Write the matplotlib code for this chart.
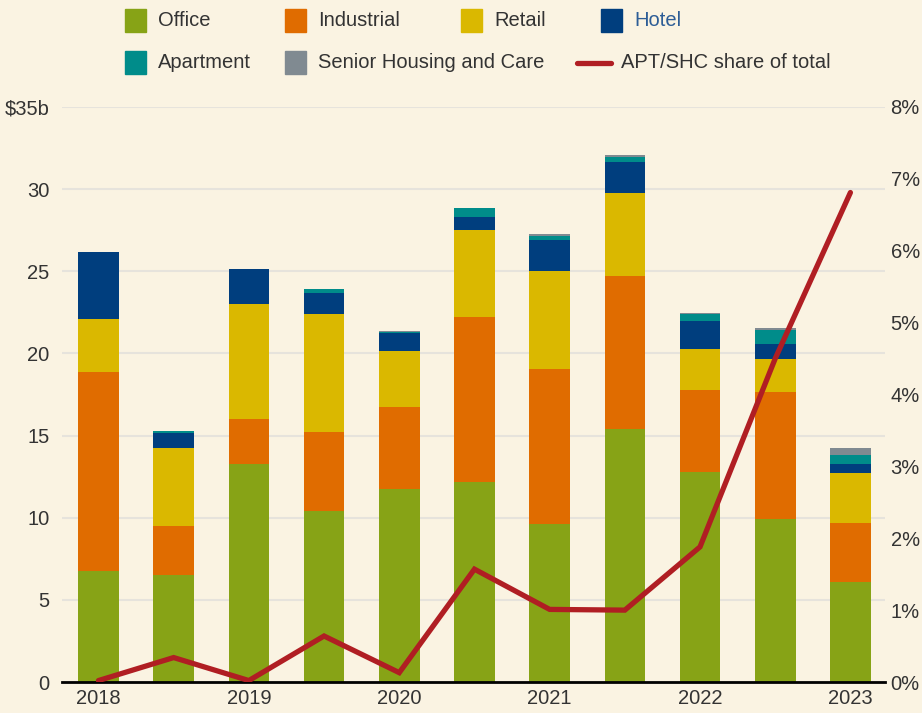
import matplotlib
matplotlib.use('Agg')
import matplotlib.pyplot as plt
from matplotlib.patches import Rectangle
from matplotlib.lines import Line2D
import numpy as np

plt.rcParams['font.family'] = ['Liberation Sans', 'DejaVu Sans']

# half-year periods, 2018 H1 .. 2023 H1 ($b)
periods = ['2018 H1', '2018 H2', '2019 H1', '2019 H2', '2020 H1', '2020 H2',
           '2021 H1', '2021 H2', '2022 H1', '2022 H2', '2023 H1']
office = [6.75, 6.5, 13.27, 10.4, 11.75, 12.2, 9.6, 15.4, 12.8, 9.9, 6.1]
industrial = [12.15, 3.0, 2.75, 4.8, 5.0, 10.0, 9.45, 9.3, 5.0, 7.75, 3.6]
retail = [3.2, 4.75, 7.0, 7.2, 3.4, 5.3, 5.95, 5.06, 2.45, 2.0, 3.05]
hotel = [4.1, 0.92, 2.1, 1.3, 1.1, 0.8, 1.9, 1.9, 1.7, 0.9, 0.5]
apartment = [0.0, 0.1, 0.0, 0.2, 0.08, 0.55, 0.25, 0.3, 0.43, 0.9, 0.57]
senior = [0.0, 0.0, 0.0, 0.0, 0.05, 0.0, 0.12, 0.12, 0.1, 0.12, 0.45]
# APT/SHC share of total (%)
share = [0.02, 0.34, 0.02, 0.64, 0.13, 1.57, 1.01, 1.0, 1.88, 4.5, 6.81]

year_labels = ['2018', '2019', '2020', '2021', '2022', '2023']
left_ticks = [0, 5, 10, 15, 20, 25, 30, 35]
left_labels = ['0', '5', '10', '15', '20', '25', '30', '$35b']
right_ticks = [0, 1, 2, 3, 4, 5, 6, 7, 8]

series = [('Office', office, '#87a316'),
          ('Industrial', industrial, '#e06c00'),
          ('Retail', retail, '#dab800'),
          ('Hotel', hotel, '#003e7e'),
          ('Apartment', apartment, '#008c8a'),
          ('Senior Housing and Care', senior, '#808a91')]
line_color = '#b01e23'
bg = '#faf3e2'
text_color = '#333333'
fs = 14.5

W, H = 922, 713
fig = plt.figure(figsize=(W / 100, H / 100), dpi=100, facecolor=bg)
ax = fig.add_axes([62 / W, 31 / H, 823 / W, 575 / H], facecolor=bg)

x = np.arange(len(periods))
bottom = np.zeros(len(periods))
for name, vals, color in series:
    ax.bar(x, vals, width=0.54, bottom=bottom, color=color, linewidth=0, zorder=2)
    bottom += np.array(vals)

ax.set_xlim(-0.485, 10.46)
ax.set_ylim(0, 35)
ax.set_yticks(left_ticks)
ax.set_yticklabels(left_labels)
ax.set_xticks(x[::2])
ax.set_xticklabels(year_labels)
ax.grid(axis='y', color='#e6e3dc', linewidth=1.5, zorder=0)
ax.set_axisbelow(True)
for s in ['top', 'right', 'left']:
    ax.spines[s].set_visible(False)
ax.spines['bottom'].set_color('black')
ax.spines['bottom'].set_linewidth(2)
ax.spines['bottom'].set_zorder(5)
ax.tick_params(axis='both', length=0, labelsize=fs, labelcolor=text_color)
ax.tick_params(axis='y', pad=9)
ax.tick_params(axis='x', pad=5)

ax2 = ax.twinx()
ax2.plot(x, share, color=line_color, linewidth=3.8, solid_capstyle='round',
         solid_joinstyle='miter', zorder=3)
ax2.set_ylim(0, 8)
ax2.set_yticks(right_ticks)
ax2.set_yticklabels([f'{t}%' for t in right_ticks])
for s in ax2.spines.values():
    s.set_visible(False)
ax2.tick_params(axis='y', length=0, labelsize=fs, labelcolor=text_color, pad=4)

# legend, drawn by hand to match the uneven spacing
def patch_entry(px, py, label, color, tcolor=text_color):
    fig.patches.append(Rectangle((px / W, 1 - (py + 11.5) / H), 21 / W, 23 / H,
                                 transform=fig.transFigure, color=color))
    fig.text((px + 33) / W, 1 - py / H, label, fontsize=fs, color=tcolor,
             va='center', ha='left')

patch_entry(125, 20, 'Office', series[0][2])
patch_entry(285, 20, 'Industrial', series[1][2])
patch_entry(461, 20, 'Retail', series[2][2])
patch_entry(601, 20, 'Hotel', series[3][2], tcolor='#2d5d96')
patch_entry(125, 62, 'Apartment', series[4][2])
patch_entry(285, 62, 'Senior Housing and Care', series[5][2])
fig.add_artist(Line2D([577 / W, 611 / W], [1 - 63 / H, 1 - 63 / H], color=line_color,
                      linewidth=3.8, solid_capstyle='round', transform=fig.transFigure))
fig.text(621 / W, 1 - 62 / H, 'APT/SHC share of total', fontsize=fs,
         color=text_color, va='center', ha='left')

fig.savefig('out.png', dpi=100, facecolor=bg)
